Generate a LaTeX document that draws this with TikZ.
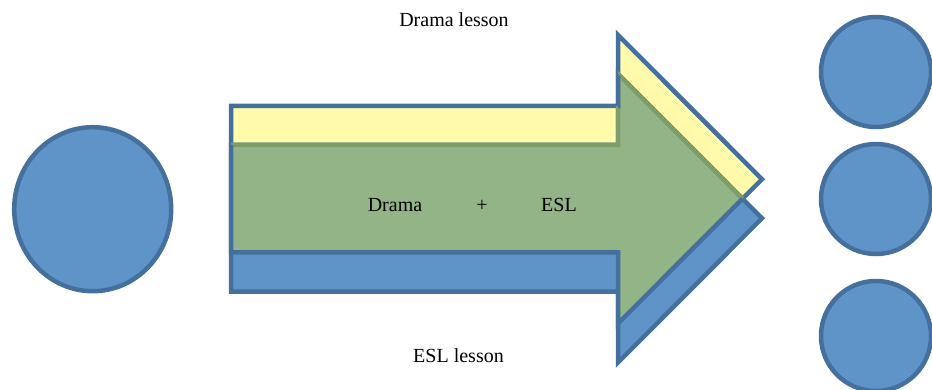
\documentclass[tikz,border=0pt]{standalone}
\usepackage{fontspec}
\setmainfont{Liberation Serif}
\usetikzlibrary{shapes.geometric}

\definecolor{edgeblue}{HTML}{45709D}
\definecolor{fillblue}{HTML}{5F94C8}
\definecolor{paleyellow}{HTML}{FFFBAB}
\definecolor{mixgreen}{HTML}{93B487}
\definecolor{mixedge}{HTML}{7F9C6B}

\tikzset{
  blob/.style={ellipse, draw=edgeblue, fill=fillblue, line width=4.5pt, inner sep=0pt},
  outline/.style={draw=edgeblue, line width=4.5pt, line join=miter},
  label/.style={anchor=base, font=\fontsize{20}{24}\selectfont, inner sep=0pt},
}

\begin{document}
\begin{tikzpicture}[x=1pt, y=-1pt]
  \useasboundingbox (0,0) rectangle (932,390);

  % corner points of the upper (drama) arrow
  \coordinate (ya) at (231,106);
  \coordinate (yb) at (618,106);
  \coordinate (yc) at (618,35);
  \coordinate (yd) at (762,179.25);
  \coordinate (ye) at (618,323.5);
  \coordinate (yf) at (618,252.5);
  \coordinate (yg) at (231,252.5);

  % corner points of the lower (ESL) arrow
  \coordinate (ba) at (231,145);
  \coordinate (bb) at (618,145);
  \coordinate (bc) at (618,74);
  \coordinate (bd) at (762,218.25);
  \coordinate (be) at (618,362.5);
  \coordinate (bf) at (618,291.5);
  \coordinate (bg) at (231,291.5);

  % drama arrow
  \path[fill=paleyellow, outline] (ya) -- (yb) -- (yc) -- (yd) -- (ye) -- (yf) -- (yg) -- cycle;
  % ESL arrow
  \path[fill=fillblue, outline] (ba) -- (bb) -- (bc) -- (bd) -- (be) -- (bf) -- (bg) -- cycle;

  % where both lessons overlap
  \begin{scope}
    \clip (ya) -- (yb) -- (yc) -- (yd) -- (ye) -- (yf) -- (yg) -- cycle;
    \fill[mixgreen] (ba) -- (bb) -- (bc) -- (bd) -- (be) -- (bf) -- (bg) -- cycle;
    \draw[mixedge, line width=4.5pt, line join=miter] (ba) -- (bb) -- (bc) -- (bd);
  \end{scope}
  \begin{scope}
    \clip (ba) -- (bb) -- (bc) -- (bd) -- (be) -- (bf) -- (bg) -- cycle;
    \path[outline] (ya) -- (yb) -- (yc) -- (yd) -- (ye) -- (yf) -- (yg) -- cycle;
  \end{scope}

  % learner before, learners after
  \node[blob, minimum width=157pt, minimum height=164pt] (learner) at (92.7,209.2) {};
  \node[blob, minimum width=110pt, minimum height=110pt] (outA) at (876,72) {};
  \node[blob, minimum width=110pt, minimum height=110pt] (outB) at (876,199) {};
  \node[blob, minimum width=110pt, minimum height=110pt] (outC) at (876,336) {};

  % texts
  \node[label] (drama lesson) at (454,27) {Drama lesson};
  \node[label] (esl lesson) at (458.5,362) {ESL lesson};
  \node[label] (drama) at (395,212) {Drama};
  \node[label] (plus) at (482,212) {+};
  \node[label] (esl) at (559,212) {ESL};
\end{tikzpicture}
\end{document}
